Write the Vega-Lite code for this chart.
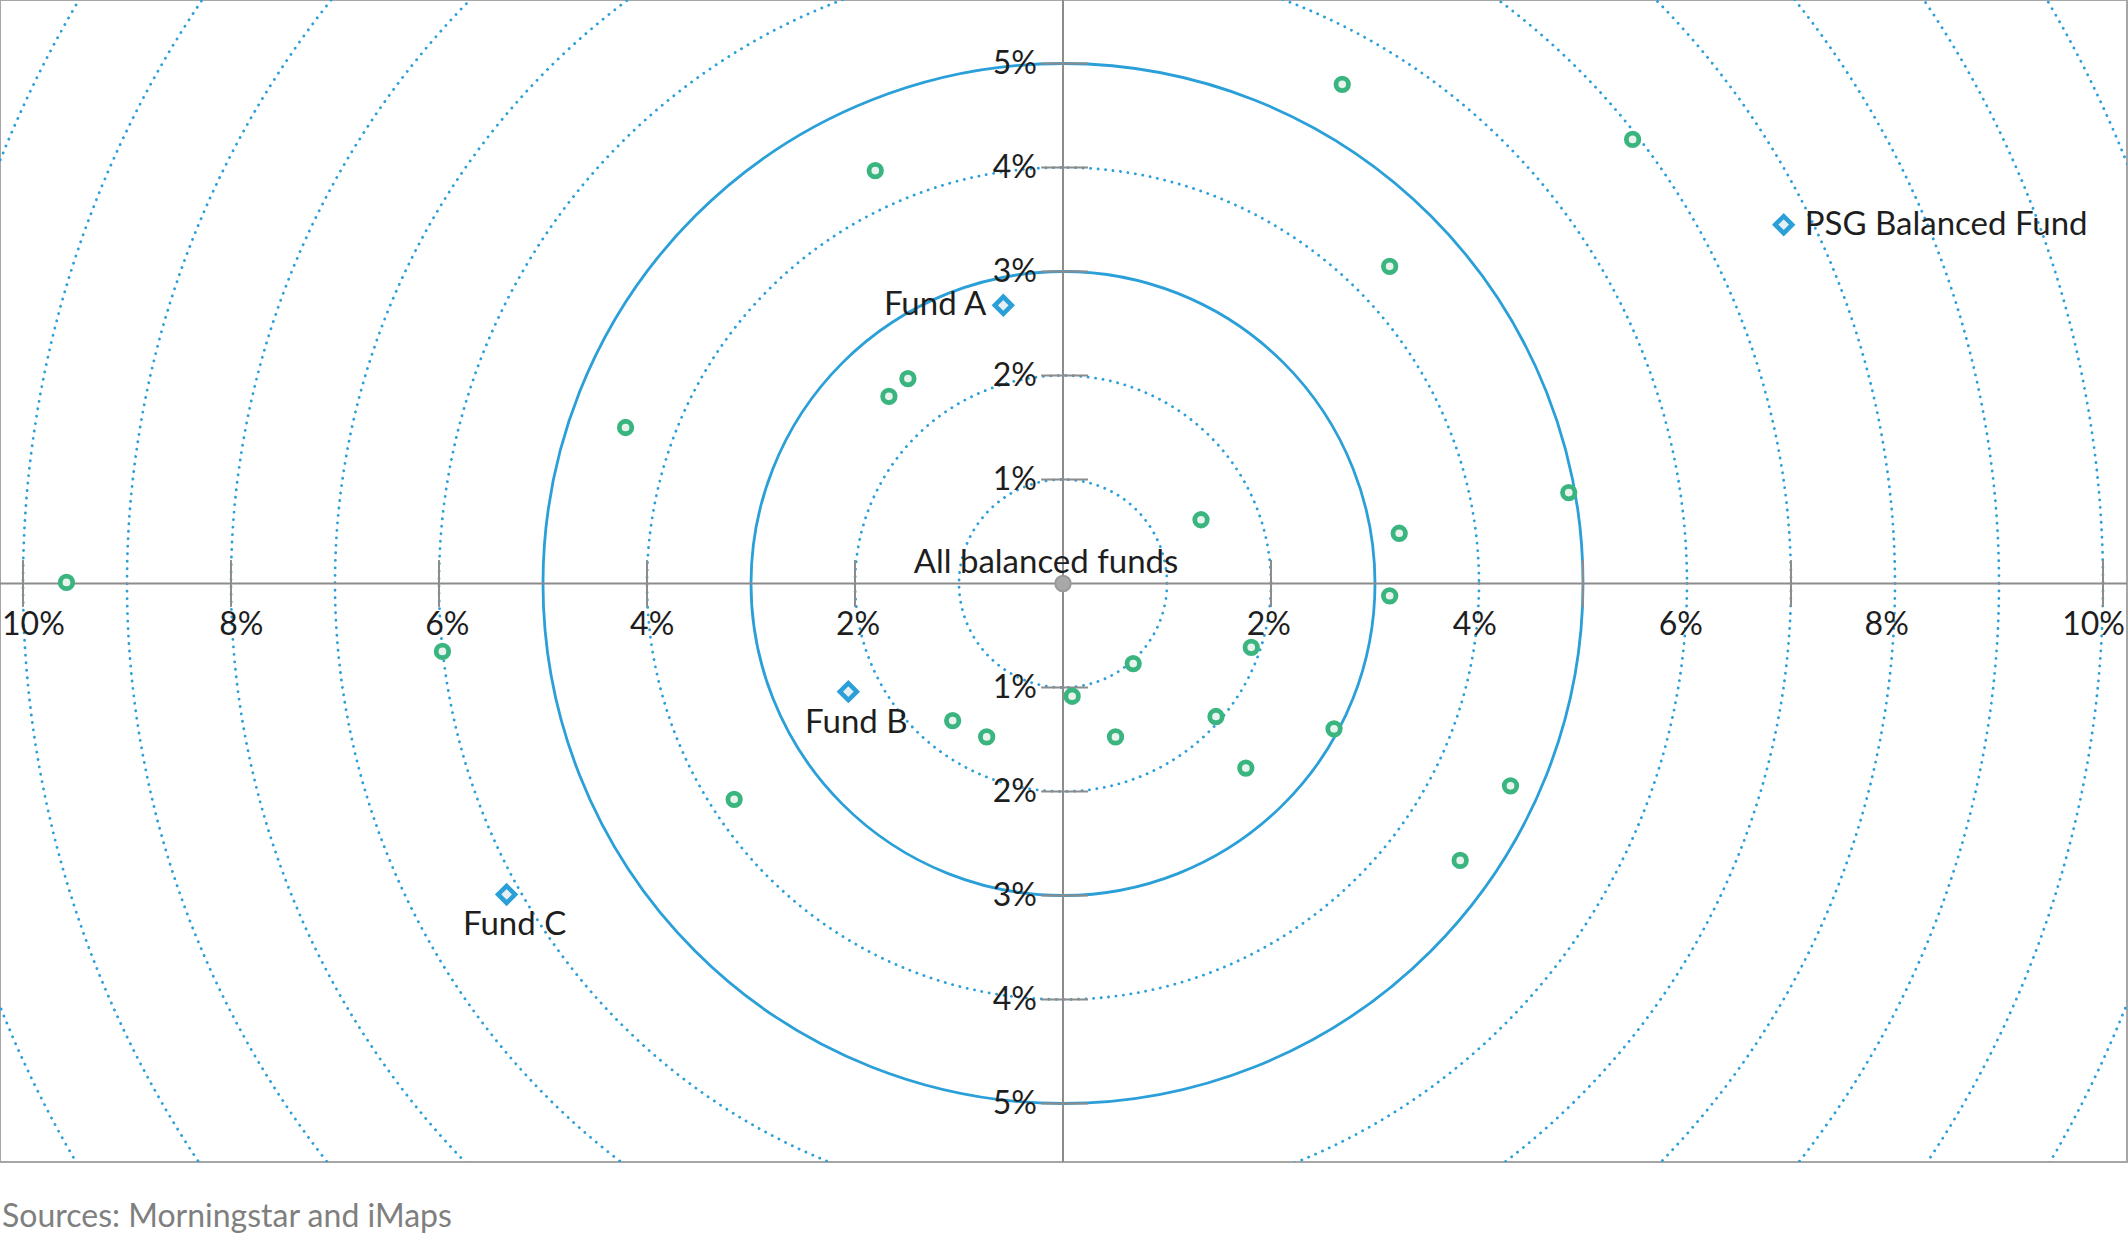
{
  "$schema": "https://vega.github.io/schema/vega-lite/v6.json",
  "width": 2127,
  "height": 1162,
  "autosize": {"type": "none"},
  "padding": {"left": 0, "top": 0, "right": 1, "bottom": 76},
  "background": "white",
  "config": {
    "view": {"stroke": "#a6a6a6", "strokeWidth": 2},
    "font": "Lato",
    "axis": {"disable": true}
  },
  "title": {
    "text": "Sources: Morningstar and iMaps",
    "orient": "bottom",
    "anchor": "start",
    "frame": "group",
    "offset": 64,
    "baseline": "alphabetic",
    "font": "Lato",
    "fontSize": 32,
    "fontWeight": "normal",
    "color": "#7f7f7f",
    "dx": 2
  },
  "datasets": {
    "rings": [
      {"r": 1}, {"r": 2}, {"r": 4}, {"r": 6}, {"r": 7},
      {"r": 8}, {"r": 9}, {"r": 10}, {"r": 11}, {"r": 12}
    ],
    "bands": [{"r": 3}, {"r": 5}],
    "xticks": [
      {"v": -10}, {"v": -8}, {"v": -6}, {"v": -4}, {"v": -2},
      {"v": 2}, {"v": 5}, {"v": 7}, {"v": 10}
    ],
    "yticks": [
      {"v": -5}, {"v": -4}, {"v": -3}, {"v": -2}, {"v": -1},
      {"v": 1}, {"v": 2}, {"v": 3}, {"v": 4}, {"v": 5}
    ],
    "xlabels": [
      {"v": -9.9, "t": "10%"}, {"v": -7.9, "t": "8%"}, {"v": -5.92, "t": "6%"},
      {"v": -3.95, "t": "4%"}, {"v": -1.97, "t": "2%"}, {"v": 1.98, "t": "2%"},
      {"v": 3.96, "t": "4%"}, {"v": 5.94, "t": "6%"}, {"v": 7.92, "t": "8%"},
      {"v": 9.91, "t": "10%"}
    ],
    "ylabels": [
      {"v": 5, "t": "5%"}, {"v": 4, "t": "4%"}, {"v": 3, "t": "3%"},
      {"v": 2, "t": "2%"}, {"v": 1, "t": "1%"}, {"v": -1, "t": "1%"},
      {"v": -2, "t": "2%"}, {"v": -3, "t": "3%"}, {"v": -4, "t": "4%"},
      {"v": -5, "t": "5%"}
    ],
    "peers": [
      {"x": 2.685, "y": 4.8},
      {"x": 5.477, "y": 4.27},
      {"x": -1.805, "y": 3.97},
      {"x": 3.141, "y": 3.05},
      {"x": -1.491, "y": 1.97},
      {"x": -1.674, "y": 1.8},
      {"x": -4.206, "y": 1.5},
      {"x": 4.863, "y": 0.874},
      {"x": 1.327, "y": 0.613},
      {"x": 3.233, "y": 0.483},
      {"x": -9.582, "y": 0.01},
      {"x": 3.141, "y": -0.118},
      {"x": 1.81, "y": -0.614},
      {"x": -5.967, "y": -0.653},
      {"x": 0.675, "y": -0.77},
      {"x": 0.088, "y": -1.084},
      {"x": 1.471, "y": -1.279},
      {"x": -1.061, "y": -1.318},
      {"x": 2.606, "y": -1.397},
      {"x": -0.734, "y": -1.475},
      {"x": 0.505, "y": -1.475},
      {"x": 1.758, "y": -1.775},
      {"x": 4.303, "y": -1.945},
      {"x": -3.162, "y": -2.075},
      {"x": 3.819, "y": -2.663}
    ],
    "funds": [
      {"name": "PSG Balanced Fund", "x": 6.93, "y": 3.45},
      {"name": "Fund A", "x": -0.574, "y": 2.675},
      {"name": "Fund B", "x": -2.064, "y": -1.04},
      {"name": "Fund C", "x": -5.35, "y": -2.99}
    ],
    "average": [{"name": "All balanced funds", "x": 0, "y": 0}]
  },
  "layer": [
    {
      "data": {"name": "rings"},
      "mark": {
        "type": "point",
        "shape": "circle",
        "filled": false,
        "clip": true,
        "stroke": "#2a9fd8",
        "strokeWidth": 2.8,
        "strokeDash": [0.1, 7.4],
        "strokeCap": "round",
        "opacity": 1
      },
      "encoding": {
        "x": {"datum": 0, "type": "quantitative", "scale": {"domain": [-10.2212, 10.2308], "nice": false, "zero": false}, "axis": null},
        "y": {"datum": 0, "type": "quantitative", "scale": {"domain": [-5.5625, 5.6106], "nice": false, "zero": false}, "axis": null},
        "size": {
          "field": "r",
          "type": "quantitative",
          "scale": {"type": "pow", "exponent": 2, "domain": [0, 12], "range": [0, 6230016], "zero": true, "nice": false},
          "legend": null
        }
      }
    },
    {
      "data": {"name": "bands"},
      "mark": {
        "type": "point",
        "shape": "circle",
        "filled": false,
        "clip": true,
        "stroke": "#2a9fd8",
        "strokeWidth": 2.8,
        "opacity": 1
      },
      "encoding": {
        "x": {"datum": 0, "type": "quantitative"},
        "y": {"datum": 0, "type": "quantitative"},
        "size": {
          "field": "r",
          "type": "quantitative",
          "scale": {"type": "pow", "exponent": 2, "domain": [0, 12], "range": [0, 6230016], "zero": true, "nice": false},
          "legend": null
        }
      }
    },
    {
      "data": {"values": [{}]},
      "mark": {"type": "rule", "color": "#8c8c8c", "strokeWidth": 2},
      "encoding": {"y": {"datum": 0, "type": "quantitative"}}
    },
    {
      "data": {"values": [{}]},
      "mark": {"type": "rule", "color": "#8c8c8c", "strokeWidth": 2},
      "encoding": {"x": {"datum": 0, "type": "quantitative"}}
    },
    {
      "data": {"name": "xticks"},
      "mark": {"type": "rule", "color": "#8c8c8c", "strokeWidth": 2},
      "encoding": {
        "x": {"field": "v", "type": "quantitative"},
        "y": {"datum": -0.225, "type": "quantitative"},
        "y2": {"datum": 0.225}
      }
    },
    {
      "data": {"name": "yticks"},
      "mark": {"type": "rule", "color": "#8c8c8c", "strokeWidth": 2},
      "encoding": {
        "y": {"field": "v", "type": "quantitative"},
        "x": {"datum": -0.21, "type": "quantitative"},
        "x2": {"datum": 0.24}
      }
    },
    {
      "data": {"name": "xlabels"},
      "mark": {"type": "text", "font": "Lato", "fontSize": 32, "color": "#1e1e1e", "align": "center", "baseline": "alphabetic", "dy": 51},
      "encoding": {
        "x": {"field": "v", "type": "quantitative"},
        "y": {"datum": 0, "type": "quantitative"},
        "text": {"field": "t"}
      }
    },
    {
      "data": {"name": "ylabels"},
      "mark": {"type": "text", "font": "Lato", "fontSize": 32, "color": "#1e1e1e", "align": "right", "baseline": "middle", "dx": -26},
      "encoding": {
        "x": {"datum": 0, "type": "quantitative"},
        "y": {"field": "v", "type": "quantitative"},
        "text": {"field": "t"}
      }
    },
    {
      "data": {"name": "peers"},
      "mark": {"type": "point", "shape": "circle", "filled": true, "size": 156, "fill": "#e8f3ee", "stroke": "#3bb57f", "strokeWidth": 4.8, "opacity": 1},
      "encoding": {
        "x": {"field": "x", "type": "quantitative"},
        "y": {"field": "y", "type": "quantitative"}
      }
    },
    {
      "data": {"name": "funds"},
      "mark": {"type": "point", "shape": "diamond", "filled": true, "size": 289, "fill": "#e6eff2", "stroke": "#2a9fd8", "strokeWidth": 4.5, "opacity": 1},
      "encoding": {
        "x": {"field": "x", "type": "quantitative"},
        "y": {"field": "y", "type": "quantitative"}
      }
    },
    {
      "data": {"name": "average"},
      "mark": {"type": "point", "shape": "circle", "filled": true, "size": 240, "fill": "#a8a8a8", "stroke": "#999999", "strokeWidth": 2, "opacity": 1},
      "encoding": {
        "x": {"field": "x", "type": "quantitative"},
        "y": {"field": "y", "type": "quantitative"}
      }
    },
    {
      "data": {"name": "funds"},
      "transform": [{"filter": "datum.name === 'PSG Balanced Fund'"}],
      "mark": {"type": "text", "font": "Lato", "fontSize": 33, "color": "#1e1e1e", "align": "left", "baseline": "middle", "dx": 21},
      "encoding": {
        "x": {"field": "x", "type": "quantitative"},
        "y": {"field": "y", "type": "quantitative"},
        "text": {"field": "name"}
      }
    },
    {
      "data": {"name": "funds"},
      "transform": [{"filter": "datum.name === 'Fund A'"}],
      "mark": {"type": "text", "font": "Lato", "fontSize": 33, "color": "#1e1e1e", "align": "right", "baseline": "middle", "dx": -17},
      "encoding": {
        "x": {"field": "x", "type": "quantitative"},
        "y": {"field": "y", "type": "quantitative"},
        "text": {"field": "name"}
      }
    },
    {
      "data": {"name": "funds"},
      "transform": [{"filter": "datum.name === 'Fund B' || datum.name === 'Fund C'"}],
      "mark": {"type": "text", "font": "Lato", "fontSize": 33, "color": "#1e1e1e", "align": "center", "baseline": "middle", "dx": 8, "dy": 31},
      "encoding": {
        "x": {"field": "x", "type": "quantitative"},
        "y": {"field": "y", "type": "quantitative"},
        "text": {"field": "name"}
      }
    },
    {
      "data": {"name": "average"},
      "mark": {"type": "text", "font": "Lato", "fontSize": 33, "color": "#1e1e1e", "align": "center", "baseline": "middle", "dx": -17, "dy": -21},
      "encoding": {
        "x": {"field": "x", "type": "quantitative"},
        "y": {"field": "y", "type": "quantitative"},
        "text": {"field": "name"}
      }
    }
  ]
}
